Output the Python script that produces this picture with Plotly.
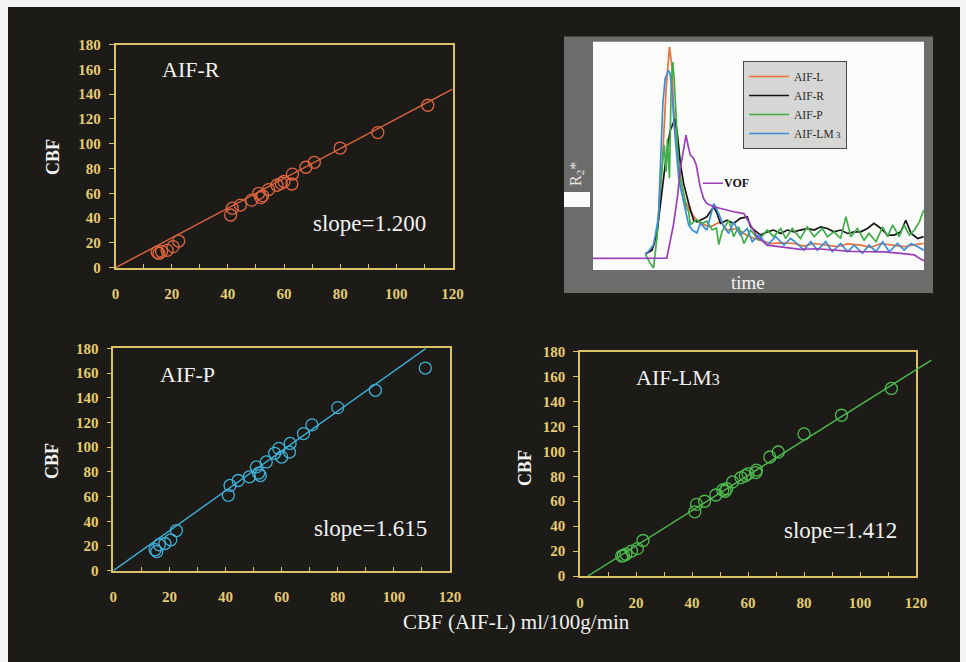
import plotly.graph_objects as go

W, H = 966, 662
SERIF = "Liberation Serif"

# ---------------- data: scatter panels ----------------
cbf_aifl = [14.9, 15.5, 16.4, 18.4, 20.5, 22.5, 41.0, 41.6, 44.5, 48.5, 51.0, 51.8,
            52.4, 54.5, 57.5, 59.0, 60.0, 62.8, 63.0, 67.8, 70.8, 80.0, 93.4, 111.2]
cbf_aifr = [12.5, 11.5, 13.0, 14.0, 17.0, 21.5, 42.5, 48.0, 50.5, 54.5, 60.0, 56.5,
            58.0, 63.0, 66.5, 68.0, 69.5, 67.5, 75.5, 81.0, 85.0, 96.5, 109.0, 131.0]
cbf_aifp = [17.0, 15.5, 21.0, 22.0, 25.0, 32.5, 61.0, 69.0, 73.0, 76.0, 84.0, 79.0,
            77.0, 88.0, 95.0, 99.0, 92.0, 96.0, 103.0, 111.0, 118.0, 132.0, 146.0, 164.0]
cbf_aiflm3 = [16.0, 16.5, 17.5, 20.0, 22.0, 28.5, 51.5, 57.5, 60.0, 65.0, 69.0, 68.0,
              70.0, 75.5, 79.0, 80.5, 82.0, 83.0, 85.0, 95.5, 99.5, 114.0, 129.0, 150.5]

panel_names = ["AIF-R", "AIF-P", "AIF-LM3"]
slope_labels = ["slope=1.200", "slope=1.615", "slope=1.412"]
fit_slopes = [1.200, 1.615, 1.412]
fit_intercepts = [0.0, 0.0, -4.0]
fit_x_ranges = [[0.0, 120.0], [0.0, 111.4], [2.8, 125.5]]

x_ticks = [0, 20, 40, 60, 80, 100, 120]
y_ticks = [0, 20, 40, 60, 80, 100, 120, 140, 160, 180]

# ---------------- data: inset time curves ----------------
t_L = [15.8, 17.8, 19.3, 20.8, 22.1, 22.7, 23.1, 23.8, 24.3, 25.2, 25.9, 26.6, 27.9, 29.4, 30.9,
       32.4, 35.5, 38.5, 40.5, 43.5, 45.6, 48.6, 50.6, 53.6, 56.7, 60.7, 63.7, 66.8, 70.8, 73.8,
       76.9, 80.9, 83.9, 87.0, 91.0, 94.0, 97.1, 99.9]
r_L = [7.0, 8.7, 14.0, 43.1, 79.5, 91.7, 97.7, 89.7, 72.2, 57.6, 46.0, 38.7, 30.0, 25.6, 22.6,
       20.4, 18.9, 21.1, 17.5, 18.2, 16.0, 13.8, 13.1, 11.6, 11.9, 11.6, 10.5, 11.6, 10.9, 10.2,
       11.4, 10.9, 9.9, 11.6, 10.8, 10.2, 11.1, 11.6]

t_R = [15.8, 17.8, 19.3, 20.8, 22.1, 23.3, 24.3, 24.8, 25.6, 26.4, 27.4, 28.9, 30.4, 31.4, 32.4,
       34.4, 36.5, 37.5, 38.5, 40.5, 42.5, 44.5, 46.6, 47.6, 50.6, 52.6, 54.6, 56.7, 58.7, 60.7,
       62.7, 64.7, 66.8, 68.8, 70.8, 72.8, 74.8, 76.9, 78.9, 80.9, 82.9, 84.9, 87.0, 89.0, 91.0,
       93.0, 94.5, 96.1, 98.1, 99.9]
r_R = [7.0, 8.7, 16.0, 34.9, 49.5, 61.1, 64.8, 66.2, 58.2, 46.6, 37.8, 29.1, 21.8, 21.1, 21.8,
       23.3, 27.7, 24.7, 20.4, 21.8, 20.4, 22.6, 23.3, 18.9, 15.3, 16.7, 17.5, 16.0, 17.5, 16.7,
       17.5, 18.2, 17.5, 18.9, 18.2, 16.7, 17.5, 16.0, 16.7, 16.7, 18.2, 20.4, 18.2, 15.3, 15.3,
       16.7, 21.8, 16.0, 13.8, 14.6]

t_P = [15.8, 17.3, 18.3, 19.3, 20.3, 21.1, 21.5, 22.1, 22.5, 23.1, 23.6, 24.1, 24.5, 25.2, 25.6,
       26.4, 27.4, 28.2, 28.9, 29.4, 30.4, 31.4, 32.9, 34.4, 36.0, 37.3, 38.0, 39.0, 41.0, 42.5,
       44.0, 45.6, 47.6, 50.1, 52.6, 54.6, 56.7, 58.2, 60.2, 62.7, 64.7, 66.8, 69.3, 70.8, 72.8,
       74.8, 76.4, 77.9, 79.9, 81.9, 83.4, 85.5, 87.5, 89.0, 90.5, 92.5, 94.0, 95.6, 97.1, 98.6,
       99.9]
r_P = [7.0, 2.9, 0.9, 14.0, 35.8, 50.4, 54.7, 43.1, 57.6, 40.2, 79.5, 91.1, 83.8, 64.9, 50.4,
       40.2, 32.9, 27.1, 25.6, 19.8, 21.1, 22.0, 20.5, 21.3, 17.6, 18.3, 11.1, 16.9, 21.8, 14.6,
       18.9, 11.6, 17.5, 13.1, 17.5, 14.6, 18.2, 13.8, 18.2, 13.8, 18.9, 14.6, 18.2, 14.6, 16.7,
       13.8, 23.3, 14.6, 18.2, 13.1, 16.0, 12.4, 18.9, 14.6, 19.7, 14.6, 19.7, 15.3, 17.5, 21.1,
       26.2]

t_M = [15.8, 16.8, 18.3, 19.8, 20.5, 21.1, 21.8, 22.8, 23.3, 23.8, 24.5, 25.2, 25.9, 26.9, 27.9,
       28.9, 29.9, 31.4, 32.4, 34.4, 36.5, 38.0, 39.5, 41.0, 42.5, 44.5, 46.6, 48.1, 50.1, 52.6,
       55.2, 57.7, 59.7, 61.7, 63.7, 65.8, 67.8, 70.3, 72.3, 74.8, 76.9, 78.9, 81.4, 83.4, 85.5,
       87.5, 89.5, 92.0, 94.0, 96.1, 98.1, 99.9]
r_M = [7.0, 8.2, 11.1, 23.3, 50.9, 72.8, 83.8, 87.5, 85.9, 79.5, 63.5, 50.4, 40.2, 32.9, 25.6,
       19.8, 17.6, 16.2, 20.4, 17.5, 29.1, 24.7, 18.9, 16.0, 21.1, 15.3, 18.2, 12.4, 15.3, 10.9,
       14.6, 10.9, 13.8, 11.6, 8.7, 12.4, 8.7, 12.4, 8.0, 11.6, 8.0, 10.9, 7.3, 10.9, 8.0,
       12.4, 8.0, 11.6, 8.7, 11.6, 10.2, 8.7]

t_V = [0.0, 22.3, 24.3, 25.6, 26.4, 27.4, 28.1, 28.9, 29.4, 30.4, 31.2, 31.9, 32.4, 33.4, 34.4,
       36.5, 38.5, 40.5, 42.5, 45.6, 47.6, 49.6, 52.6, 57.7, 62.7, 67.8, 72.8, 77.9, 82.9, 88.0,
       93.0, 97.1, 98.6, 100.0]
r_V = [5.1, 5.2, 19.8, 32.9, 44.5, 53.3, 59.1, 53.3, 50.4, 48.9, 46.0, 40.2, 36.4, 31.3, 29.1,
       27.7, 26.9, 26.2, 25.5, 24.7, 19.7, 14.6, 10.9, 9.9, 9.0, 9.3, 8.7, 8.2, 8.0, 7.9,
       7.3, 6.6, 5.1, 4.1]

inset_names = ["AIF-L", "AIF-R", "AIF-P", "AIF-LM<span style='font-size:9px'> 3</span>"]

# ---------------- styles ----------------
BG = "#1c1b17"
GOLD = "#d9c164"
TICKC = "#e4cc70"
WHITE = "#f2f2f0"
C_R = "#e0653e"
C_P = "#3fb0d8"
C_M = "#4dbb4d"
INSET_COLORS = ["#e8703a", "#151515", "#3fae48", "#3b8fd9"]
C_VOF = "#9a3fb8"


def dom_x(a, b):
    return [a / W, b / W]


def dom_y(top, bottom):
    return [1 - bottom / H, 1 - top / H]


fig = go.Figure()

# scatter panels
panel_data = [cbf_aifr, cbf_aifp, cbf_aiflm3]
panel_colors = [C_R, C_P, C_M]
marker_axes = [("x", "y"), ("x2", "y2"), ("x3", "y3")]
line_axes = [("x", "y"), ("x2", "y2"), ("x5", "y5")]
for i, (yvals, col) in enumerate(zip(panel_data, panel_colors)):
    xa, ya = marker_axes[i]
    fig.add_trace(go.Scatter(
        x=cbf_aifl, y=yvals, mode="markers", showlegend=False, xaxis=xa, yaxis=ya,
        marker=dict(symbol="circle-open", size=12, color=col, line=dict(width=1.3, color=col)),
        hoverinfo="skip"))
    fx = fit_x_ranges[i]
    fy = [fit_slopes[i] * v + fit_intercepts[i] for v in fx]
    lx, ly = line_axes[i]
    fig.add_trace(go.Scatter(
        x=fx, y=fy, mode="lines", showlegend=False, xaxis=lx, yaxis=ly,
        line=dict(color=col, width=1.4), hoverinfo="skip"))

# inset curves
for t, r, name, col in zip([t_L, t_R, t_P, t_M], [r_L, r_R, r_P, r_M], inset_names, INSET_COLORS):
    fig.add_trace(go.Scatter(x=t, y=r, mode="lines", name=name, xaxis="x4", yaxis="y4",
                             line=dict(color=col, width=1.7), hoverinfo="skip"))
fig.add_trace(go.Scatter(x=t_V, y=r_V, mode="lines", name="VOF", showlegend=False,
                         xaxis="x4", yaxis="y4", line=dict(color=C_VOF, width=1.7), hoverinfo="skip"))


def main_x(domain, anchor):
    return dict(domain=domain, anchor=anchor, range=[0, 120], showgrid=False, zeroline=False,
                showline=True, linecolor=GOLD, linewidth=1.5, mirror=True, automargin=False,
                tickmode="array", tickvals=x_ticks, ticks="inside", ticklen=4, tickcolor=GOLD,
                tickwidth=1.2,
                minor=dict(tickmode="linear", tick0=10, dtick=20, ticks="inside", ticklen=4,
                           tickcolor=GOLD, tickwidth=1.2),
                tickfont=dict(family=SERIF, size=15, color=TICKC, weight="bold"),
                ticklabelstandoff=12, fixedrange=True)


def main_y(domain, anchor):
    return dict(domain=domain, anchor=anchor, range=[0, 180], showgrid=False, zeroline=False,
                showline=True, linecolor=GOLD, linewidth=1.5, mirror=True, automargin=False,
                tickmode="array", tickvals=y_ticks, ticks="outside", ticklen=5, tickcolor=GOLD,
                tickwidth=1.2,
                tickfont=dict(family=SERIF, size=15, color=TICKC, weight="bold"),
                ticklabelstandoff=5, fixedrange=True)


p1x, p1y = dom_x(115.5, 452.5), dom_y(44.5, 267.7)
p2x, p2y = dom_x(113.3, 450.0), dom_y(348.3, 570.7)
p3x, p3y = dom_x(580.0, 916.0), dom_y(351.7, 576.0)
p5x = dom_x(580.0, 946.0)
insx, insy = dom_x(593.0, 924.0), dom_y(41.7, 270.0)

hidden = dict(visible=False, showgrid=False, zeroline=False, fixedrange=True, automargin=False)

fig.update_layout(
    width=W, height=H, autosize=False,
    margin=dict(l=0, r=0, t=0, b=0, pad=0, autoexpand=False),
    paper_bgcolor="#f3f3f1", plot_bgcolor="rgba(0,0,0,0)",
    xaxis=main_x(p1x, "y"), yaxis=main_y(p1y, "x"),
    xaxis2=main_x(p2x, "y2"), yaxis2=main_y(p2y, "x2"),
    xaxis3=main_x(p3x, "y3"), yaxis3=main_y(p3y, "x3"),
    xaxis4=dict(domain=insx, anchor="y4", range=[0, 100], **hidden),
    yaxis4=dict(domain=insy, anchor="x4", range=[0, 100], **hidden),
    xaxis5=dict(domain=p5x, anchor="y5", range=[0, 120 * (946 - 580) / (916 - 580)], **hidden),
    yaxis5=dict(domain=p3y, anchor="x5", range=[0, 180], **hidden),
    showlegend=True,
    legend=dict(x=743 / W, y=1 - 61 / H, xanchor="left", yanchor="top",
                bgcolor="#d6d6d4", bordercolor="#4a4a4a", borderwidth=1,
                font=dict(family=SERIF, size=11.5, color="#2a2a2a"),
                itemwidth=40, tracegroupgap=0, itemclick=False, itemdoubleclick=False,
                entrywidth=94, entrywidthmode="pixels"),
)

shapes = [
    dict(type="rect", xref="paper", yref="paper", x0=8 / W, x1=960 / W, y0=0, y1=1 - 7 / H,
         fillcolor=BG, line=dict(width=0), layer="below"),
    dict(type="rect", xref="paper", yref="paper", x0=564 / W, x1=933 / W, y0=1 - 293 / H,
         y1=1 - 36.5 / H, fillcolor="#6c6c6a", line=dict(width=0), layer="below"),
    dict(type="rect", xref="paper", yref="paper", x0=insx[0], x1=insx[1], y0=insy[0], y1=insy[1],
         fillcolor="#fbfbfa", line=dict(width=0), layer="below"),
    dict(type="rect", xref="paper", yref="paper", x0=564 / W, x1=590 / W, y0=1 - 207 / H,
         y1=1 - 192 / H, fillcolor="#fbfbfa", line=dict(width=0), layer="below"),
]
fig.update_layout(shapes=shapes)

ann = []
title_pos = [("x", "y", 26.9, 159.8, 90.6, 35.3),
             ("x2", "y2", 26.3, 159.2, 91.5, 34.5),
             ("x3", "y3", 35.0, 159.7, 92.9, 36.9)]
panel_title_text = ["AIF-R", "AIF-P", "AIF-LM<span style='font-size:16px'>3</span>"]
for (xr, yr, tx, ty, sx, sy), ttl, sl in zip(title_pos, panel_title_text, slope_labels):
    ann.append(dict(xref=xr, yref=yr, x=tx, y=ty, text=ttl, showarrow=False,
                    xanchor="center", yanchor="middle",
                    font=dict(family=SERIF, size=22, color=WHITE)))
    ann.append(dict(xref=xr, yref=yr, x=sx, y=sy, text=sl, showarrow=False,
                    xanchor="center", yanchor="middle",
                    font=dict(family=SERIF, size=23, color=WHITE)))

for cx, cy in [(53, 157), (52, 461), (525, 468)]:
    ann.append(dict(xref="paper", yref="paper", x=cx / W, y=1 - cy / H, text="CBF",
                    showarrow=False, textangle=-90, xanchor="center", yanchor="middle",
                    font=dict(family=SERIF, size=18, color=WHITE, weight="bold")))

ann.append(dict(xref="paper", yref="paper", x=516 / W, y=1 - 622 / H,
                text="CBF (AIF-L) ml/100g/min", showarrow=False,
                xanchor="center", yanchor="middle",
                font=dict(family=SERIF, size=21, color=WHITE)))
ann.append(dict(xref="paper", yref="paper", x=748 / W, y=1 - 283 / H, text="time",
                showarrow=False, xanchor="center", yanchor="middle",
                font=dict(family=SERIF, size=19, color=WHITE)))
ann.append(dict(xref="paper", yref="paper", x=577 / W, y=1 - 174 / H, text="R<sub>2</sub>*",
                showarrow=False, textangle=-90, xanchor="center", yanchor="middle",
                font=dict(family=SERIF, size=16, color="#e6e6e4")))
ann.append(dict(xref="x4", yref="y4", x=33.2, y=38.0, axref="x4", ayref="y4", ax=43.5, ay=38.0,
                text="VOF", showarrow=True, arrowhead=0, arrowwidth=1.3, arrowcolor=C_VOF,
                font=dict(family=SERIF, size=12, color="#111111", weight="bold")))
fig.update_layout(annotations=ann)

fig.write_html("out.html")
